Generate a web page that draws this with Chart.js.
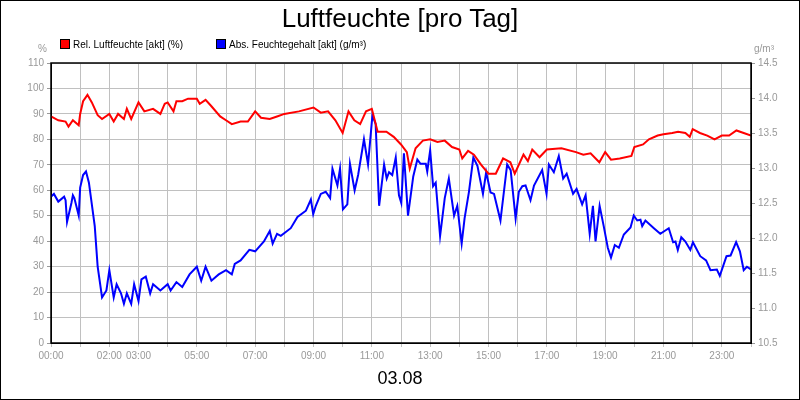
<!DOCTYPE html>
<html>
<head>
<meta charset="utf-8">
<script src="https://cdn.jsdelivr.net/npm/chart.js@4/dist/chart.umd.min.js"></script>
<style>
  body { margin: 0; background: #fff; font-family: "Liberation Sans", Arial, sans-serif; }
  #wrap { position: relative; width: 800px; height: 400px; box-sizing: border-box; border: 1px solid #000; }
  canvas { position: absolute; left: 0; top: 0; }
  .t { position: absolute; white-space: nowrap; }
  .sq { display: inline-block; width: 8px; height: 8px; border: 1px solid #000; vertical-align: -1px; margin-right: 3px; }
</style>
</head>
<body>
<div id="wrap">
  <canvas id="c" width="798" height="398"></canvas>
  <div class="t" style="left:0;width:798px;text-align:center;top:2px;font-size:26px;">Luftfeuchte [pro Tag]</div>
  <div class="t" style="left:59px;top:38px;font-size:10px;"><span class="sq" style="background:#f00"></span>Rel. Luftfeuchte [akt] (%)</div>
  <div class="t" style="left:215px;top:38px;font-size:10px;"><span class="sq" style="background:#00f"></span>Abs. Feuchtegehalt [akt] (g/m³)</div>
  <div class="t" style="left:37px;top:42px;font-size:10px;color:#999;">%</div>
  <div class="t" style="left:753px;top:42px;font-size:10px;color:#999;">g/m³</div>
  <div class="t" style="left:0;width:798px;text-align:center;top:367px;font-size:18px;">03.08</div>
</div>
<script>
// Stunden mit Beschriftung auf der x-Achse
const hourLabels = [0, 2, 3, 5, 7, 9, 11, 13, 15, 17, 19, 21, 23];

// Rel. Luftfeuchte (%)
const relTimes = [0, 0.25, 0.5, 0.6, 0.75, 0.95, 1.0, 1.1, 1.25, 1.4, 1.6, 1.75, 2.0, 2.15, 2.3, 2.5, 2.6, 2.75, 3.0, 3.2, 3.5, 3.75, 3.9, 4.0, 4.2, 4.3, 4.5, 4.7, 5.0, 5.1, 5.3, 5.5, 5.8, 6.0, 6.2, 6.5, 6.75, 7.0, 7.2, 7.5, 7.75, 8.0,
  8.5, 9.0, 9.25, 9.5, 9.75, 10.0, 10.2, 10.4, 10.6, 10.8, 11.0, 11.2, 11.5, 11.75, 12.0, 12.2, 12.3, 12.5, 12.75, 13.0, 13.25, 13.5, 13.75, 14.0, 14.1, 14.3, 14.5, 14.75, 15.0, 15.25, 15.5, 15.75, 15.9, 16.2, 16.35,
  16.5, 16.75, 17.0, 17.5, 18.0, 18.25, 18.5, 18.8, 19.0, 19.2, 19.5, 19.9, 20.0, 20.3, 20.5, 20.8, 21.0, 21.3, 21.5, 21.75, 21.9, 22.0, 22.25, 22.5, 22.75, 23.0, 23.25, 23.5, 23.75, 24];
const relValues = [89, 87.5, 87, 85, 87.5, 85.5, 90, 95, 97.5, 94.5, 89.5, 88, 90, 87, 90, 88, 92, 88, 94.5, 91, 92, 90, 94, 94.5, 91, 95, 95, 96, 96, 94, 95.5, 93, 89, 87.5, 86, 87, 87, 91, 88.5, 88, 89, 90,
  91, 92.5, 90.5, 91, 87.5, 82.5, 91, 87.5, 86, 91, 92, 83, 83, 81, 78, 75, 68.5, 76.5, 79.5, 80, 79, 79.5, 77, 76, 72.5, 75.5, 74, 70, 66.5, 66.5, 72.5, 71, 66.5, 74, 71.5,
  76, 73, 76, 76.5, 75, 74, 74.5, 71, 75, 72, 72.5, 73.5, 77, 78, 80, 81.5, 82, 82.5, 83, 82.5, 81, 84, 82.5, 81.5, 80, 81.5, 81.5, 83.5, 82.5, 81.5];

// Abs. Feuchtegehalt (g/m³)
const absTimes = [0, 0.1, 0.25, 0.45, 0.5, 0.55, 0.7, 0.75, 0.8, 0.95, 1.0, 1.1, 1.2, 1.3, 1.5, 1.6, 1.75, 1.9, 2.0, 2.15, 2.25, 2.4, 2.5, 2.6, 2.75, 2.85, 3.0, 3.1, 3.25, 3.4, 3.5, 3.75, 4.0, 4.1, 4.3, 4.5, 4.75, 5.0, 5.15, 5.3, 5.5, 5.75, 6.0, 6.2, 6.3, 6.5, 6.8, 7.0, 7.3, 7.5, 7.6, 7.75, 7.88,
  8.22, 8.45, 8.74, 8.91, 8.99, 9.08, 9.25, 9.42, 9.57, 9.65, 9.82, 9.91, 10.01, 10.16, 10.25, 10.41, 10.53, 10.73, 10.87, 11.02, 11.13, 11.25, 11.42, 11.51, 11.59, 11.7, 11.82, 11.93, 12.01, 12.1, 12.24, 12.42, 12.56, 12.67, 12.85, 12.9, 13.0, 13.1, 13.19, 13.34, 13.5, 13.64, 13.82, 13.93, 14.08, 14.18, 14.33, 14.48, 14.62, 14.81, 14.92, 15.07, 15.19, 15.41, 15.64, 15.76, 15.93, 16.04, 16.16,
  16.27, 16.44, 16.56, 16.84, 16.99, 17.07, 17.24, 17.41, 17.56, 17.68, 17.9, 18.02, 18.21, 18.33, 18.47, 18.58, 18.67, 18.81, 18.95, 19.09, 19.2, 19.33, 19.47, 19.64, 19.87, 19.98, 20.1, 20.21, 20.27, 20.38, 20.67, 20.89, 21.18, 21.33, 21.41, 21.49, 21.61, 21.75, 21.92, 22.01, 22.26, 22.46, 22.61, 22.83, 22.93, 23.16, 23.3, 23.49, 23.62, 23.75, 23.86, 24];
const absValues = [12.59, 12.63, 12.52, 12.59, 12.54, 12.23, 12.50, 12.61, 12.57, 12.32, 12.72, 12.90, 12.95, 12.79, 12.17, 11.59, 11.15, 11.25, 11.54, 11.15, 11.34, 11.21, 11.06, 11.21, 11.06, 11.34, 11.10, 11.41, 11.45, 11.21, 11.34, 11.25, 11.34, 11.25, 11.37, 11.30, 11.48, 11.59, 11.39, 11.59, 11.39, 11.48, 11.54, 11.48, 11.63, 11.68, 11.83, 11.81, 11.95, 12.10, 11.92, 12.06, 12.03,
  12.14, 12.30, 12.39, 12.55, 12.34, 12.46, 12.63, 12.66, 12.57, 12.99, 12.75, 12.99, 12.41, 12.48, 13.06, 12.68, 12.90, 13.41, 13.05, 13.75, 13.63, 12.46, 13.05, 12.85, 12.94, 12.90, 13.15, 12.61, 12.50, 13.21, 12.32, 12.88, 13.12, 13.06, 13.06, 12.95, 13.25, 12.74, 12.79, 12.03, 12.57, 12.85, 12.32, 12.46, 11.92, 12.28, 12.66, 13.15, 13.03, 12.63, 12.94, 12.65, 12.63, 12.25, 13.05, 12.97, 12.28, 12.66, 12.74,
  12.75, 12.54, 12.75, 12.97, 12.63, 13.05, 12.94, 13.17, 12.85, 12.92, 12.63, 12.70, 12.48, 12.61, 12.06, 12.46, 11.95, 12.46, 12.17, 11.86, 11.72, 11.90, 11.86, 12.05, 12.15, 12.32, 12.25, 12.26, 12.17, 12.25, 12.14, 12.06, 12.14, 11.94, 11.95, 11.83, 12.01, 11.95, 11.83, 11.94, 11.74, 11.68, 11.54, 11.55, 11.46, 11.74, 11.75, 11.94, 11.81, 11.54, 11.59, 11.55];

const tickFont = { family: '"Liberation Sans", Arial, sans-serif', size: 10 };
const tickColor = '#999';
const gridColor = '#c0c0c0';

// schwarzer Rahmen um die Zeichenfläche
const frame = {
  id: 'frame',
  afterDraw(chart) {
    const { ctx, chartArea: a } = chart;
    ctx.save();
    ctx.strokeStyle = '#000';
    ctx.lineWidth = 1.5;
    ctx.strokeRect(a.left, a.top, a.right - a.left, a.bottom - a.top);
    ctx.restore();
  }
};

new Chart(document.getElementById('c'), {
  type: 'line',
  data: {
    datasets: [
      {
        label: 'Rel. Luftfeuchte [akt] (%)',
        data: relTimes.map((t, i) => ({ x: t, y: relValues[i] })),
        borderColor: '#ff0000',
        borderWidth: 2,
        pointRadius: 0,
        yAxisID: 'y'
      },
      {
        label: 'Abs. Feuchtegehalt [akt] (g/m³)',
        data: absTimes.map((t, i) => ({ x: t, y: absValues[i] })),
        borderColor: '#0000ff',
        borderWidth: 2,
        pointRadius: 0,
        yAxisID: 'y1'
      }
    ]
  },
  options: {
    responsive: false,
    animation: false,
    layout: { padding: { top: 62, bottom: 36, left: 0, right: 0 } },
    plugins: { legend: { display: false }, tooltip: { enabled: false } },
    scales: {
      x: {
        type: 'linear', min: 0, max: 24,
        afterFit: (s) => { s.height = 20; },
        ticks: {
          stepSize: 1, autoSkip: false, maxRotation: 0, color: tickColor, font: tickFont,
          callback: (v) => hourLabels.includes(v) ? String(v).padStart(2, '0') + ':00' : ''
        },
        grid: { color: gridColor, tickLength: 4, tickColor: gridColor },
        border: { color: '#000' }
      },
      y: {
        position: 'left', min: 0, max: 110,
        afterFit: (s) => { s.width = 50; },
        ticks: { stepSize: 10, color: tickColor, font: tickFont },
        grid: { color: gridColor, tickLength: 4, tickColor: '#999' },
        border: { color: '#000' }
      },
      y1: {
        position: 'right', min: 10.5, max: 14.5,
        afterFit: (s) => { s.width = 48; },
        ticks: { stepSize: 0.5, color: tickColor, font: tickFont, callback: (v) => v.toFixed(1) },
        grid: { drawOnChartArea: false, tickLength: 4, tickColor: '#999' },
        border: { color: '#000' }
      }
    }
  },
  plugins: [frame]
});
</script>
</body>
</html>
